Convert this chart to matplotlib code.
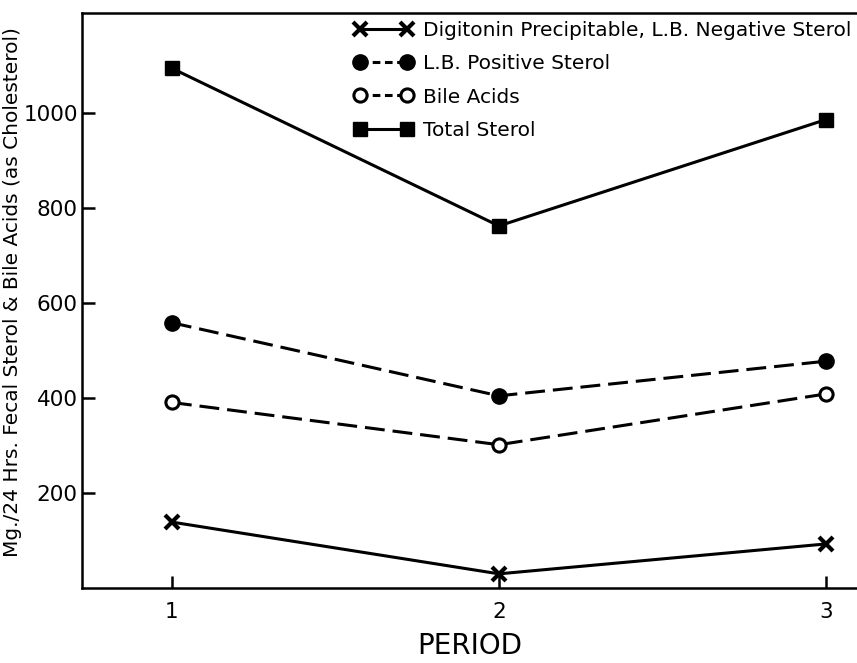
import matplotlib.pyplot as plt
from matplotlib.lines import Line2D

# Dados
periods = [1, 2, 3]
digitonin = [139, 30, 93]
lb_positive = [559, 405, 478]
bile_acids = [391, 302, 409]
total_sterol = [1095, 763, 987]

yticks = [200, 400, 600, 800, 1000]
labels = ['Digitonin Precipitable, L.B. Negative Sterol',
          'L.B. Positive Sterol',
          'Bile Acids',
          'Total Sterol']

plt.rcParams['font.family'] = ['DejaVu Sans']

fig = plt.figure(figsize=(8.57, 6.63), dpi=100)
ax = fig.add_axes([0.0957, 0.113, 0.9043, 0.867])

lw = 2.2
dash = (6.5, 2.6)

ax.plot(periods, digitonin, color='black', lw=lw, marker='x', ms=10, mew=3)
ax.plot(periods, lb_positive, color='black', lw=lw, dashes=dash, marker='o', ms=11)
ax.plot(periods, bile_acids, color='black', lw=lw, dashes=dash, marker='o', ms=9.5,
        mfc='white', mew=2.2)
ax.plot(periods, total_sterol, color='black', lw=lw, marker='s', ms=9.5)

ax.set_xlim(0.725, 3.095)
ax.set_ylim(0, 1211)
ax.set_xticks(periods)
ax.set_yticks(yticks)
ax.spines['right'].set_visible(False)
for s in ['left', 'bottom', 'top']:
    ax.spines[s].set_linewidth(1.8)
ax.tick_params(direction='in', length=9, width=1.8, labelsize=15.5)
ax.tick_params(axis='x', pad=10)
ax.tick_params(axis='y', pad=3)

ax.set_xlabel('PERIOD', fontsize=20, labelpad=7)
ax.set_ylabel('Mg./24 Hrs. Fecal Sterol & Bile Acids (as Cholesterol)', fontsize=14.5)
ax.yaxis.set_label_coords(-0.077, 0.515)

# Legenda com marcadores nas duas pontas
handles = [
    Line2D([], [], color='black', lw=lw, marker='x', ms=10, mew=3),
    Line2D([], [], color='black', lw=lw, dashes=(2.5, 1.5), marker='o', ms=11),
    Line2D([], [], color='black', lw=lw, dashes=(2.5, 1.5), marker='o', ms=9.5,
           mfc='white', mew=2.2),
    Line2D([], [], color='black', lw=lw, marker='s', ms=9.5),
]
ax.legend(handles, labels, loc='upper left', bbox_to_anchor=(0.341, 1.0),
          frameon=False, numpoints=2, fontsize=14.5, handlelength=2.9,
          handletextpad=0.5, labelspacing=0.7, borderaxespad=0)

fig.savefig('out.png', dpi=100)
